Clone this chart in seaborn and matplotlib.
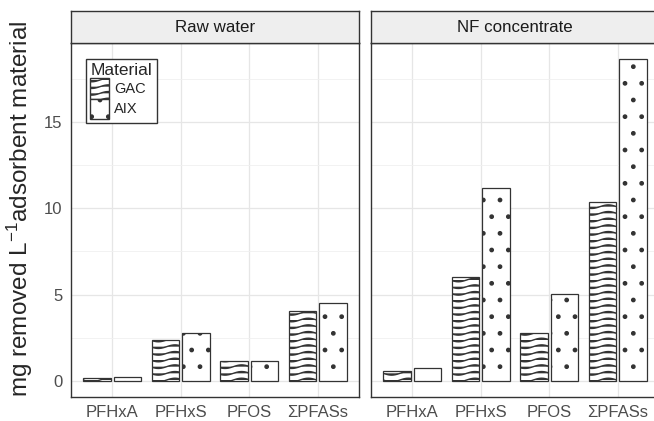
import warnings
import numpy as np
import pandas as pd
import matplotlib
matplotlib.use('Agg')
import matplotlib.pyplot as plt
import matplotlib.hatch as mhatch
from matplotlib.path import Path
from matplotlib.patches import Patch
from matplotlib.ticker import MultipleLocator
import seaborn as sns

warnings.filterwarnings('ignore')

# Data
compounds = ['PFHxA', 'PFHxS', 'PFOS', 'ΣPFASs']
waters = ['Raw water', 'NF concentrate']
materials = ['GAC', 'AIX']
raw_gac = [0.17, 2.37, 1.17, 4.05]
raw_aix = [0.22, 2.76, 1.18, 4.50]
nf_gac = [0.58, 6.04, 2.76, 10.38]
nf_aix = [0.73, 11.19, 5.04, 18.63]

rows = []
for water, gac, aix in zip(waters, [raw_gac, nf_gac], [raw_aix, nf_aix]):
    for comp, g, a in zip(compounds, gac, aix):
        rows.append({'Water': water, 'Compound': comp, 'Material': 'GAC', 'Value': g})
        rows.append({'Water': water, 'Compound': comp, 'Material': 'AIX', 'Value': a})
df = pd.DataFrame(rows)


# wavy hatch pattern ('~'), registered next to the built-in ones
class WavyHatch(mhatch.HatchPatternBase):
    def __init__(self, hatch, density):
        self.num_lines = int(hatch.count('~') * density * 2.5)
        self.num_points = 61
        self.num_vertices = (self.num_lines + 1) * self.num_points if self.num_lines else 0

    def set_vertices_and_codes(self, vertices, codes):
        t = np.linspace(0, 1, self.num_points)
        for i in range(self.num_lines + 1):
            y0 = i / self.num_lines
            sl = slice(i * self.num_points, (i + 1) * self.num_points)
            vertices[sl, 0] = t
            vertices[sl, 1] = y0 + 0.018 * np.sin(2 * np.pi * 3 * t)
            codes[sl] = Path.LINETO
            codes[i * self.num_points] = Path.MOVETO


mhatch._hatch_types.append(WavyHatch)

sns.set_style('white')
plt.rcParams['font.family'] = ['Liberation Sans', 'DejaVu Sans']
plt.rcParams['mathtext.fontset'] = 'custom'
plt.rcParams['mathtext.rm'] = 'Liberation Sans'
plt.rcParams['mathtext.it'] = 'Liberation Sans:italic'
plt.rcParams['mathtext.bf'] = 'Liberation Sans:bold'
plt.rcParams['hatch.linewidth'] = 1.0
plt.rcParams['hatch.color'] = '#1a1a1a'

W, H = 654, 421
fig = plt.figure(figsize=(W / 100, H / 100), dpi=100)
edge = '#333333'
hatches = {'GAC': '~', 'AIX': '.'}

axes = []
for i, water in enumerate(waters):
    x0 = [71, 371][i]
    ax = fig.add_axes([x0 / W, (H - 397) / H, 288 / W, (397 - 43) / H])
    sns.barplot(data=df[df['Water'] == water], x='Compound', y='Value',
                hue='Material', hue_order=materials, order=compounds,
                palette=['white', 'white'], saturation=1, edgecolor=edge,
                linewidth=0.9, width=0.89, gap=0.1, legend=False, ax=ax)
    for cont, mat in zip(ax.containers, materials):
        for bar in cont:
            bar.set_hatch(hatches[mat])

    ax.set_xlim(-0.6, 3.6)
    ax.set_ylim(-0.93, 19.56)
    ax.yaxis.set_major_locator(MultipleLocator(5))
    ax.yaxis.set_minor_locator(MultipleLocator(2.5))
    ax.grid(True, which='major', color='#E6E6E6', lw=0.9)
    ax.grid(True, which='minor', axis='y', color='#F0F0F0', lw=0.6)
    ax.set_axisbelow(True)
    for sp in ax.spines.values():
        sp.set_color(edge)
        sp.set_linewidth(1.0)
    ax.tick_params(axis='both', which='major', length=4, width=0.8, color=edge,
                   labelcolor='#4D4D4D', labelsize=12, pad=2)
    ax.tick_params(axis='y', which='minor', length=0)
    ax.set_xlabel('')
    ax.set_ylabel('')
    if i == 1:
        ax.tick_params(axis='y', length=0, labelleft=False)

    strip = fig.add_axes([x0 / W, (H - 43) / H, 288 / W, 32 / H])
    strip.set_facecolor('#EEEEEE')
    strip.set_xticks([])
    strip.set_yticks([])
    for sp in strip.spines.values():
        sp.set_color(edge)
        sp.set_linewidth(1.0)
    strip.text(0.5, 0.5, water, ha='center', va='center', fontsize=12.2, color='#1A1A1A')
    axes.append(ax)

axes[0].set_ylabel('mg removed L$^{-1}$adsorbent material', fontsize=17.5)
axes[0].yaxis.set_label_coords(-0.125, 0.531)

handles = [Patch(facecolor='white', edgecolor=edge, hatch=hatches[m], label=m) for m in materials]
leg = axes[0].legend(handles=handles, title='Material', loc='upper left',
                     bbox_to_anchor=(86 / W, 1 - 59 / H), bbox_transform=fig.transFigure,
                     borderaxespad=0, fancybox=False, framealpha=1, edgecolor=edge,
                     fontsize=10.5, title_fontsize=12.5, handlelength=1.3, handleheight=1.75,
                     handletextpad=0.35, labelspacing=0.0, borderpad=0.3)
leg.get_frame().set_linewidth(1.0)
leg._legend_box.align = 'left'

fig.savefig('out.png', dpi=100)
